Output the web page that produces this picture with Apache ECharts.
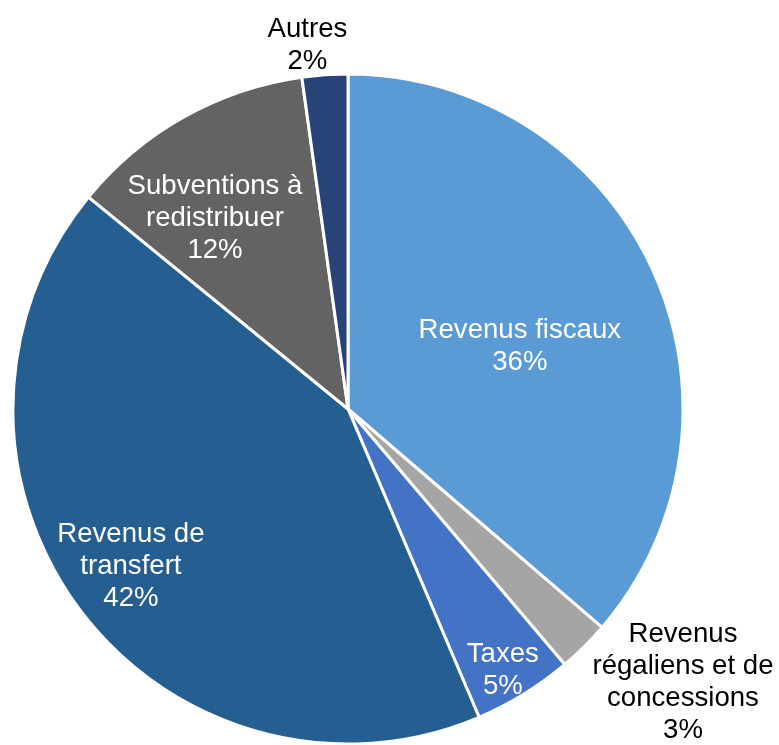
<!DOCTYPE html>
<html><head><meta charset="utf-8">
<script src="https://cdn.jsdelivr.net/npm/echarts@6/dist/echarts.min.js"></script>
<style>html,body{margin:0;padding:0;background:#fff}#c{width:779px;height:745px}</style>
</head><body><div id="c"></div>
<script>
const categories = ['Revenus fiscaux', 'Revenus régaliens et de concessions', 'Taxes', 'Revenus de transfert', 'Subventions à redistribuer', 'Autres'];
const labelTexts = ['Revenus fiscaux', 'Revenus\nrégaliens et de\nconcessions', 'Taxes', 'Revenus de\ntransfert', 'Subventions à\nredistribuer', 'Autres'];
const values = [36.3, 2.5, 4.8, 42.3, 11.9, 2.2];
const colors = ['#5B9BD5', '#A5A5A5', '#4472C4', '#255E91', '#636363', '#264478'];
const labelColors = ['#fff', '#000', '#fff', '#fff', '#fff', '#000'];
// label placement style: radius fraction and angular shift (deg) from slice middle
const labelRadius = [0.546, 1.29, 0.906, 0.80, 0.695, 1.093];
const labelShift = [4.6, -6, 1, 1, -5.5, -2.4];

const CX = 348, CY = 409, R = 335;
const total = values.reduce((a, b) => a + b, 0);
const mids = [];
let acc = 0;
values.forEach(v => { mids.push((acc + v / 2) / total * 360); acc += v; });

const chart = echarts.init(document.getElementById('c'));
chart.setOption({
  animation: false,
  series: [{
    type: 'pie',
    center: [CX, CY],
    radius: [0, R],
    startAngle: 90,
    clockwise: true,
    itemStyle: { borderColor: '#fff', borderWidth: 3 },
    labelLine: { show: false },
    label: {
      show: true,
      position: 'inside',
      fontFamily: 'Liberation Sans, Arial, sans-serif',
      fontSize: 27.6,
      lineHeight: 32,
      align: 'center',
      formatter: p => labelTexts[p.dataIndex] + '\n' + Math.round(p.percent) + '%'
    },
    labelLayout: function (params) {
      const i = params.dataIndex;
      const a = (mids[i] + labelShift[i]) * Math.PI / 180;
      const k = labelRadius[i] * R;
      return { x: CX + k * Math.sin(a), y: CY - k * Math.cos(a), align: 'center', verticalAlign: 'middle' };
    },
    data: categories.map((c, i) => ({
      name: c, value: values[i],
      itemStyle: { color: colors[i] },
      label: { color: labelColors[i] }
    }))
  }]
});
</script></body></html>
